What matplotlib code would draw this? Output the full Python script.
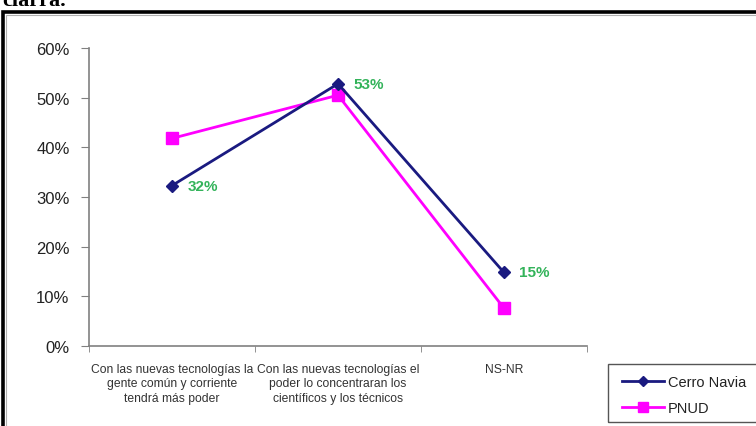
import matplotlib.pyplot as plt
from matplotlib.font_manager import FontProperties
from matplotlib.patches import Rectangle
from matplotlib.ticker import FixedLocator, PercentFormatter

plt.rcParams["font.family"] = ["Liberation Sans", "DejaVu Sans"]

categories = [
    "Con las nuevas tecnologías la\ngente común y corriente\ntendrá más poder",
    "Con las nuevas tecnologías el\npoder lo concentraran los\ncientíficos y los técnicos",
    "NS-NR",
]
cerro_navia = [32.3, 52.8, 14.8]
pnud = [41.8, 50.5, 7.6]
cerro_labels = ["32%", "53%", "15%"]
y_ticks = [0, 10, 20, 30, 40, 50, 60]

W, H = 756, 427
fig = plt.figure(figsize=(W / 100, H / 100), dpi=100)

# outer frame of the embedded chart (runs off the right and bottom edges)
fig.patches.append(Rectangle((3 / W, -0.05), 1.0, 1 - 13 / H + 0.05,
                             transform=fig.transFigure, fill=False,
                             edgecolor="black", linewidth=2.6))
fig.patches.append(Rectangle((6 / W, -0.05), 1.0, 1 - 16 / H + 0.05,
                             transform=fig.transFigure, fill=False,
                             edgecolor="#b0b0b0", linewidth=0.8))

# caption text above the frame, cut by the top edge as in the source
fig.text(2 / W, 1 - 1 / H, "ciarra.", fontsize=16, fontweight="bold",
         family="Liberation Serif", va="center", ha="left")

left, right, top, bottom = 89, 587, 49, 347
ax = fig.add_axes([left / W, 1 - bottom / H, (right - left) / W, (bottom - top) / H])

x = list(range(len(categories)))
ax.plot(x, cerro_navia, color="#1a1a80", linewidth=2, marker="D", markersize=6,
        label="Cerro Navia", zorder=3)
ax.plot(x, pnud, color="#ff00ff", linewidth=2, marker="s", markersize=9,
        label="PNUD", zorder=2)

for xi, yi, lab in zip(x, cerro_navia, cerro_labels):
    ax.annotate(lab, (xi, yi), xytext=(11, 0), textcoords="offset points",
                color="#33b35a", fontsize=11, fontweight="bold", va="center")

ax.set_xlim(-0.5, len(categories) - 0.5)
ax.set_ylim(0, 60)
ax.yaxis.set_major_locator(FixedLocator(y_ticks))
ax.yaxis.set_major_formatter(PercentFormatter(decimals=0))
ax.set_xticks(x)
ax.set_xticklabels(categories, fontsize=8.7, linespacing=1.28)
ax.xaxis.set_minor_locator(FixedLocator([-0.5, 0.5, 1.5, 2.5]))
ax.tick_params(axis="x", which="major", length=0, pad=12, colors="#333333")
ax.tick_params(axis="x", which="minor", length=4, color="#808080")
ax.tick_params(axis="y", length=6, color="#808080", labelsize=12, pad=8,
               labelcolor="#222222")

for s in ["top", "right"]:
    ax.spines[s].set_visible(False)
for s in ["left", "bottom"]:
    ax.spines[s].set_color("#808080")
    ax.spines[s].set_linewidth(1.2)

# legend box runs past the right edge, so draw its frame separately
fig.patches.append(Rectangle((608 / W, 1 - 423 / H), 0.5, 58 / H,
                             transform=fig.transFigure, fill=False,
                             edgecolor="#555555", linewidth=1))
leg = ax.legend(loc="upper left", bbox_to_anchor=(619 / W, 1 - 373 / H),
                bbox_transform=fig.transFigure,
                prop=FontProperties(family="Liberation Sans", size=10.5),
                frameon=False, handlelength=2.9, borderpad=0.2,
                labelspacing=0.85, handletextpad=0.25, markerscale=0.8,
                borderaxespad=0)
for t in leg.get_texts():
    t.set_color("#222222")

fig.savefig("out.png", dpi=100)
